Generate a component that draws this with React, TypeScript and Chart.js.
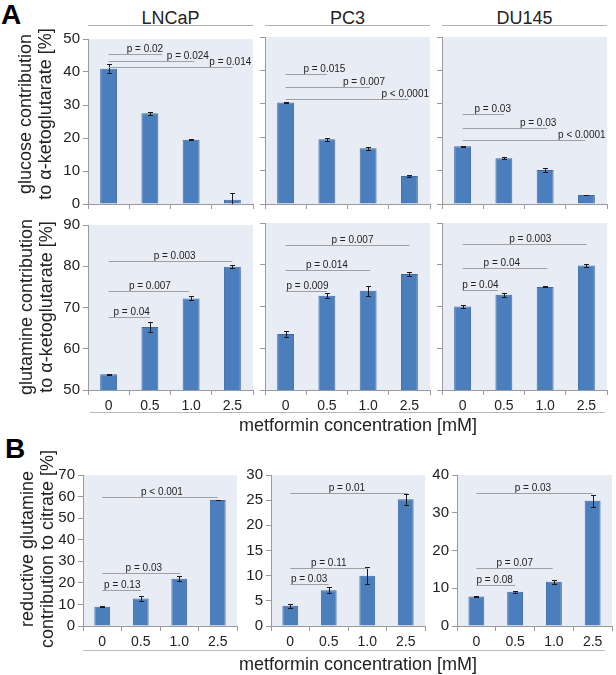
import React, { useEffect, useRef } from 'react';
import { Chart, registerables } from 'chart.js';

Chart.register(...registerables);

const FONT = '"Liberation Sans", Arial, sans-serif';
Chart.defaults.font.family = FONT;

// ---------- data ----------
const doses = ['0', '0.5', '1.0', '2.5'];
const cellLines = ['LNCaP', 'PC3', 'DU145'];

const glucoseLNCaP = [41.0, 27.5, 19.5, 1.3];
const glucoseLNCaPErr = [1.3, 0.5, 0.15, 1.9];
const glucosePC3 = [30.4, 19.4, 16.7, 8.4];
const glucosePC3Err = [0.2, 0.5, 0.4, 0.2];
const glucoseDU145 = [17.3, 13.7, 10.2, 2.7];
const glucoseDU145Err = [0.2, 0.3, 0.6, 0.1];

const glutamineLNCaP = [53.8, 65.3, 72.2, 79.9];
const glutamineLNCaPErr = [0.15, 1.2, 0.5, 0.3];
const glutaminePC3 = [63.4, 72.6, 73.8, 77.8];
const glutaminePC3Err = [0.8, 0.6, 1.2, 0.4];
const glutamineDU145 = [70.0, 72.8, 74.7, 79.8];
const glutamineDU145Err = [0.4, 0.5, 0.1, 0.4];

const reductiveLNCaP = [8.9, 12.7, 21.9, 58.4];
const reductiveLNCaPErr = [0.2, 1.15, 1.2, 0.2];
const reductivePC3 = [4.0, 7.1, 10.0, 25.2];
const reductivePC3Err = [0.4, 0.6, 1.7, 1.1];
const reductiveDU145 = [7.8, 9.1, 11.7, 33.2];
const reductiveDU145Err = [0.1, 0.3, 0.6, 1.6];

// p-value brackets: from dose 0 to index `to`, at value `y`, label centred at index `lx`
type Bracket = { to: number; y: number; lx: number; p: string };

const glucoseLNCaPBrackets: Bracket[] = [
  { to: 1.3, y: 45.4, lx: 0.88, p: 'p = 0.02' },
  { to: 2.08, y: 43.3, lx: 1.92, p: 'p = 0.024' },
  { to: 3, y: 41.6, lx: 2.95, p: 'p = 0.014' },
];
const glucosePC3Brackets: Bracket[] = [
  { to: 1, y: 38.9, lx: 0.94, p: 'p = 0.015' },
  { to: 2.05, y: 34.9, lx: 1.9, p: 'p = 0.007' },
  { to: 2.97, y: 31.4, lx: 2.9, p: 'p < 0.0001' },
];
const glucoseDU145Brackets: Bracket[] = [
  { to: 1, y: 26.9, lx: 0.73, p: 'p = 0.03' },
  { to: 2.05, y: 22.9, lx: 1.83, p: 'p = 0.03' },
  { to: 2.97, y: 19.1, lx: 2.89, p: 'p < 0.0001' },
];
const glutamineLNCaPBrackets: Bracket[] = [
  { to: 1, y: 67.6, lx: 0.56, p: 'p = 0.04' },
  { to: 1.95, y: 73.9, lx: 1.0, p: 'p = 0.007' },
  { to: 3, y: 81.2, lx: 1.6, p: 'p = 0.003' },
];
const glutaminePC3Brackets: Bracket[] = [
  { to: 1, y: 73.6, lx: 0.53, p: 'p = 0.009' },
  { to: 2.05, y: 78.8, lx: 1.0, p: 'p = 0.014' },
  { to: 3, y: 84.8, lx: 1.62, p: 'p = 0.007' },
];
const glutamineDU145Brackets: Bracket[] = [
  { to: 0.85, y: 74.0, lx: 0.43, p: 'p = 0.04' },
  { to: 2.05, y: 79.2, lx: 0.95, p: 'p = 0.04' },
  { to: 3, y: 85.0, lx: 1.64, p: 'p = 0.003' },
];
const reductiveLNCaPBrackets: Bracket[] = [
  { to: 1, y: 16.5, lx: 0.52, p: 'p = 0.13' },
  { to: 2.03, y: 24.6, lx: 1.08, p: 'p = 0.03' },
  { to: 3, y: 60.0, lx: 1.55, p: 'p < 0.001' },
];
const reductivePC3Brackets: Bracket[] = [
  { to: 1, y: 8.25, lx: 0.49, p: 'p = 0.03' },
  { to: 2.03, y: 11.5, lx: 1.0, p: 'p = 0.11' },
  { to: 3.05, y: 26.5, lx: 1.47, p: 'p = 0.01' },
];
const reductiveDU145Brackets: Bracket[] = [
  { to: 1, y: 10.9, lx: 0.47, p: 'p = 0.08' },
  { to: 1.97, y: 15.4, lx: 0.99, p: 'p = 0.07' },
  { to: 3, y: 35.2, lx: 1.46, p: 'p = 0.03' },
];

// ---------- styles / layout ----------
const BAR = '#4b7ebd';
const BAR_EDGE = '#3c6aa4';
const PLOT_BG = '#e8edf5';
const AXIS = '#9a9a9a';
const TXT = '#222';
const Y_W = 40;
const X_H = 28;
const PAD_T = 10;
const PAD_R = 6;

type PanelProps = {
  left: number; top: number; width: number; height: number;
  values: number[]; errors: number[]; brackets: Bracket[];
  yMin: number; yMax: number; yStep: number; showY: boolean; showX: boolean;
};

function Panel(props: PanelProps) {
  const ref = useRef<HTMLCanvasElement>(null);
  useEffect(() => {
    const { values, errors, brackets, yMin, yMax, yStep, showY, showX } = props;
    const bgPlugin = {
      id: 'plotBg',
      beforeDraw(chart: any) {
        const { ctx, chartArea: a } = chart;
        ctx.save();
        ctx.fillStyle = PLOT_BG;
        ctx.fillRect(a.left, a.top, a.right - a.left, a.bottom - a.top);
        ctx.restore();
      },
    };
    const annotPlugin = {
      id: 'annot',
      afterDatasetsDraw(chart: any) {
        const { ctx, chartArea: a } = chart;
        const xs = chart.scales.x;
        const ys = chart.scales.y;
        ctx.save();
        // error bars
        ctx.strokeStyle = '#1a1a1a';
        ctx.lineWidth = 1;
        values.forEach((v, i) => {
          const e = errors[i];
          const x = Math.round(xs.getPixelForValue(i)) + 0.5;
          const yT = Math.round(ys.getPixelForValue(v + e)) + 0.5;
          const yB = Math.min(Math.round(ys.getPixelForValue(v - e)) + 0.5, a.bottom);
          ctx.beginPath();
          ctx.moveTo(x, yT);
          ctx.lineTo(x, yB);
          ctx.moveTo(x - 2.5, yT);
          ctx.lineTo(x + 2.5, yT);
          if (yB < a.bottom) {
            ctx.moveTo(x - 2.5, yB);
            ctx.lineTo(x + 2.5, yB);
          }
          ctx.stroke();
        });
        // brackets
        ctx.font = `10px ${FONT}`;
        ctx.textAlign = 'center';
        ctx.textBaseline = 'alphabetic';
        brackets.forEach((b) => {
          const y = Math.round(ys.getPixelForValue(b.y)) + 0.5;
          const x0 = xs.getPixelForValue(0);
          const x1 = xs.getPixelForValue(b.to);
          ctx.strokeStyle = '#a0a0a0';
          ctx.beginPath();
          ctx.moveTo(x0, y);
          ctx.lineTo(x1, y);
          ctx.stroke();
          ctx.fillStyle = TXT;
          ctx.fillText(b.p, xs.getPixelForValue(b.lx), y - 2.5);
        });
        ctx.restore();
      },
    };
    const chart = new Chart(ref.current as HTMLCanvasElement, {
      type: 'bar',
      data: {
        labels: doses,
        datasets: [
          {
            data: values,
            backgroundColor: BAR,
            borderColor: BAR_EDGE,
            borderWidth: 1,
            barPercentage: 0.41,
            categoryPercentage: 1,
          },
        ],
      },
      options: {
        responsive: false,
        maintainAspectRatio: false,
        animation: false,
        layout: { padding: { top: PAD_T, right: PAD_R, left: 0, bottom: 0 } },
        plugins: { legend: { display: false }, tooltip: { enabled: false } },
        scales: {
          x: {
            grid: { offset: true, drawOnChartArea: false, tickLength: 5, color: AXIS },
            border: { color: AXIS },
            ticks: { display: showX, color: TXT, font: { size: 14 }, padding: 3 },
            afterFit: (s: any) => { s.height = X_H; },
          },
          y: {
            min: yMin,
            max: yMax,
            grid: { drawOnChartArea: false, tickLength: 5, color: AXIS },
            border: { color: AXIS },
            ticks: { display: showY, stepSize: yStep, color: TXT, font: { size: 15 }, padding: 3 },
            afterFit: (s: any) => { s.width = Y_W; },
          },
        },
      },
      plugins: [bgPlugin, annotPlugin],
    } as any);
    return () => chart.destroy();
  }, []);
  return (
    <canvas
      ref={ref}
      width={props.width + Y_W + PAD_R}
      height={props.height + PAD_T + X_H}
      style={{ position: 'absolute', left: props.left - Y_W, top: props.top - PAD_T }}
    />
  );
}

const abs = (s: React.CSSProperties): React.CSSProperties => ({ position: 'absolute', fontFamily: FONT, color: TXT, ...s });

function YLabel({ cx, cy, lines }: { cx: number; cy: number; lines: string[] }) {
  return (
    <div
      style={abs({
        left: cx - 120, top: cy - 20, width: 240, height: 40, fontSize: 18, lineHeight: '20px',
        textAlign: 'center', transform: 'rotate(-90deg)', whiteSpace: 'nowrap',
      })}
    >
      {lines.map((l, i) => <div key={i}>{l}</div>)}
    </div>
  );
}

export default function App() {
  const colA = [88, 265, 442];
  const colB = [83, 271, 457];
  const widthB = [154, 154, 155];
  const glucose = [
    [glucoseLNCaP, glucoseLNCaPErr, glucoseLNCaPBrackets],
    [glucosePC3, glucosePC3Err, glucosePC3Brackets],
    [glucoseDU145, glucoseDU145Err, glucoseDU145Brackets],
  ] as [number[], number[], Bracket[]][];
  const glutamine = [
    [glutamineLNCaP, glutamineLNCaPErr, glutamineLNCaPBrackets],
    [glutaminePC3, glutaminePC3Err, glutaminePC3Brackets],
    [glutamineDU145, glutamineDU145Err, glutamineDU145Brackets],
  ] as [number[], number[], Bracket[]][];
  const reductive = [
    [reductiveLNCaP, reductiveLNCaPErr, reductiveLNCaPBrackets],
    [reductivePC3, reductivePC3Err, reductivePC3Brackets],
    [reductiveDU145, reductiveDU145Err, reductiveDU145Brackets],
  ] as [number[], number[], Bracket[]][];
  const reductiveMax = [70, 30, 40];
  const reductiveStep = [10, 5, 10];

  return (
    <div style={{ position: 'absolute', left: 0, top: 0, width: 616, height: 675, background: '#fff', overflow: 'hidden' }}>
      <div style={abs({ left: 1, top: 1, fontSize: 28, fontWeight: 'bold', lineHeight: '28px', color: '#000' })}>A</div>
      <div style={abs({ left: 5, top: 435, fontSize: 28, fontWeight: 'bold', lineHeight: '28px', color: '#000' })}>B</div>

      {cellLines.map((c, i) => (
        <React.Fragment key={c}>
          <div style={abs({ left: colA[i], top: 9, width: 165, fontSize: 18, lineHeight: '18px', textAlign: 'center' })}>{c}</div>
          <div style={{ position: 'absolute', left: colA[i], top: 25, width: 165, height: 1, background: '#b0b0b0' }} />
        </React.Fragment>
      ))}

      {glucose.map(([v, e, b], i) => (
        <Panel key={'g' + i} left={colA[i]} top={37} width={165} height={167} values={v} errors={e} brackets={b}
          yMin={0} yMax={50} yStep={10} showY={i === 0} showX={false} />
      ))}
      {glutamine.map(([v, e, b], i) => (
        <Panel key={'q' + i} left={colA[i]} top={223} width={165} height={167} values={v} errors={e} brackets={b}
          yMin={50} yMax={90} yStep={10} showY={i === 0} showX={true} />
      ))}
      {reductive.map(([v, e, b], i) => (
        <Panel key={'r' + i} left={colB[i]} top={473} width={widthB[i]} height={153} values={v} errors={e} brackets={b}
          yMin={0} yMax={reductiveMax[i]} yStep={reductiveStep[i]} showY={true} showX={true} />
      ))}

      <YLabel cx={35} cy={114} lines={['glucose contribution', 'to α-ketoglutarate [%]']} />
      <YLabel cx={35.5} cy={307} lines={['glutamine contribution', 'to α-ketoglutarate [%]']} />
      <YLabel cx={36.5} cy={549} lines={['reductive glutamine', 'contribution to citrate [%]']} />

      <div style={{ position: 'absolute', left: 90, top: 412, width: 515, height: 1, background: '#b8b8b8' }} />
      <div style={{ position: 'absolute', left: 83, top: 650, width: 522, height: 1, background: '#b8b8b8' }} />
      <div style={abs({ left: 158, top: 416, width: 400, fontSize: 18, lineHeight: '18px', textAlign: 'center' })}>metformin concentration [mM]</div>
      <div style={abs({ left: 158, top: 655, width: 400, fontSize: 18, lineHeight: '18px', textAlign: 'center' })}>metformin concentration [mM]</div>
    </div>
  );
}
